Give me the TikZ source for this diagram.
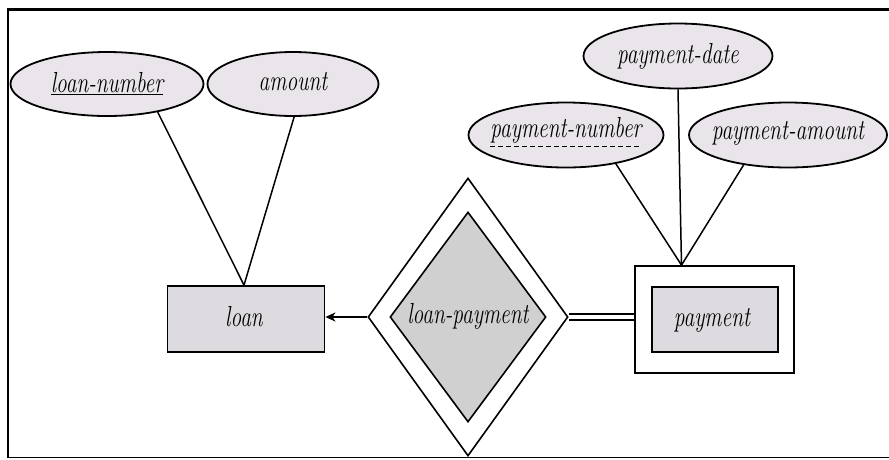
\documentclass[tikz,border=0pt]{standalone}
\usetikzlibrary{shapes.geometric,arrows.meta}
\definecolor{attrfill}{RGB}{233,229,234}
\definecolor{entfill}{RGB}{221,219,223}
\definecolor{relfill}{RGB}{208,208,208}
% narrow, tall italic labels
\newcommand{\erlabel}[1]{\scalebox{0.74}[1]{\fontsize{29}{32}\selectfont\itshape #1}}
\tikzset{
  x=1pt, y=-1pt,
  attr/.style={ellipse, draw, line width=1.8pt, fill=attrfill, inner sep=0pt},
  entity/.style={rectangle, draw, line width=1.8pt, fill=entfill, inner sep=0pt},
  weakouter/.style={rectangle, draw, line width=1.8pt, fill=white, inner sep=0pt},
  reldia/.style={diamond, draw, line width=1.6pt, inner sep=0pt},
  txt/.style={inner sep=0pt},
  link/.style={line width=1.5pt},
}
\begin{document}
\begin{tikzpicture}
\useasboundingbox (0,0) rectangle (889,459);
% frame: heavy top and left rules, light bottom rule
\draw[line width=2.6pt] (8,458) -- (8,9.3) -- (889,9.3);
\draw[line width=0.9pt] (8,457.5) -- (889,457.5);

% attributes of loan
\node[attr, minimum width=193, minimum height=64] (ln) at (107,84) {};
\node[txt] (lnt) at (107,84) {\erlabel{\underline{loan-number}}};
\node[attr, minimum width=171, minimum height=64] (am) at (293,84) {};
\node[txt] (amt) at (293,82) {\erlabel{amount}};

% attributes of payment
\node[attr, minimum width=189, minimum height=65] (pd) at (678,56) {};
\node[txt] (pdt) at (678,56) {\erlabel{payment-date}};
\node[attr, minimum width=195, minimum height=65] (pn) at (566,135) {};
\node[txt] (pnt) at (566,130) {\erlabel{payment-number}};
\draw[line width=1.2pt, dash pattern=on 5pt off 3pt] ([yshift=-3pt]pnt.south west) -- ([yshift=-3pt]pnt.south east);
\node[attr, minimum width=198, minimum height=65] (pa) at (788,135) {};
\node[txt] (pat) at (788,133) {\erlabel{payment-amount}};

% strong entity
\node[entity, minimum width=157, minimum height=66] (loan) at (246,319) {};
\node[txt] (loant) at (244,317) {\erlabel{loan}};

% weak entity: double rectangle
\node[weakouter, minimum width=159, minimum height=107] (payo) at (714.5,319.5) {};
\node[entity, minimum width=126, minimum height=65] (pay) at (715,319.5) {};
\node[txt] (payt) at (712,320) {\erlabel{payment}};

% identifying relationship: double diamond
\node[reldia, fill=white, minimum width=200, minimum height=278] (lpo) at (468,317) {};
\node[reldia, fill=relfill, minimum width=156, minimum height=210] (lpi) at (468,317) {};
\node[txt] (lpt) at (468,316) {\erlabel{loan-payment}};

% attribute links meet on the entity tops
\coordinate (loantop) at ([xshift=-2pt]loan.north);
\coordinate (paytop) at ([xshift=-33pt]payo.north);
\draw[link] (ln.-29) -- (loantop);
\draw[link] (am.-88) -- (loantop);
\draw[link] (pn.-30) -- (paytop);
\draw[link] (pd.south) -- (paytop);
\draw[link] (pa.-146) -- (paytop);

% relationship links
\draw[link, -{Stealth[length=10pt, width=9pt, inset=3pt]}] (lpo.west) -- (lpo.west -| loan.east);
\draw[line width=1.8pt, double, double distance=3.5pt] (lpo.east) -- (lpo.east -| payo.west);
\end{tikzpicture}
\end{document}
